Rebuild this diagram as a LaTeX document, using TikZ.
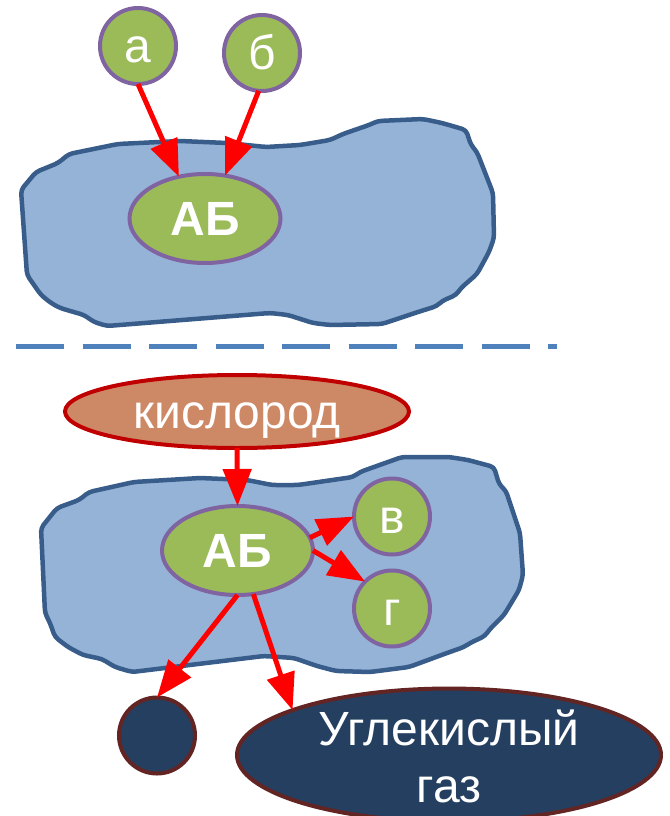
\documentclass[tikz,border=0pt]{standalone}
\usepackage{fontspec}
\setmainfont{Liberation Sans}
\usetikzlibrary{arrows.meta,shapes.geometric}
\definecolor{blobfill}{HTML}{95B3D7}
\definecolor{blobline}{HTML}{385D8A}
\definecolor{grn}{HTML}{9BBB59}
\definecolor{purp}{HTML}{8064A2}
\definecolor{kisfill}{HTML}{CD8866}
\definecolor{kisline}{HTML}{C00000}
\definecolor{darkfill}{HTML}{243F60}
\definecolor{darkline}{HTML}{632523}
\definecolor{dashc}{HTML}{4F81BD}
\tikzset{
  blob/.style={fill=blobfill,draw=blobline,line width=4.5pt,rounded corners=4pt},
  base/.style={inner sep=0pt,outer sep=0pt,line width=4pt,text=white,
    font=\fontsize{48pt}{57pt}\selectfont,text height=34pt,text depth=0pt},
  gcirc/.style={base,circle,minimum size=76pt,fill=grn,draw=purp},
  gell/.style={base,ellipse,minimum width=151pt,minimum height=89pt,fill=grn,draw=purp},
  kis/.style={base,ellipse,minimum width=344pt,minimum height=73pt,fill=kisfill,draw=kisline},
  dcirc/.style={base,circle,minimum size=76pt,fill=darkfill,draw=darkline},
  gasell/.style={base,ellipse,minimum width=424pt,minimum height=114pt,fill=darkfill,draw=darkline,
    align=center,text height=94pt,text depth=0pt},
  arr/.style={draw=red,line width=5pt,-{Triangle[length=37pt,width=28pt]}},
  sep/.style={draw=dashc,line width=5pt,dash pattern=on 48pt off 18.5pt}
}
\begin{document}
\begin{tikzpicture}[x=1pt,y=-1pt]
\useasboundingbox (0,0) rectangle (669,816);
% upper cell
\draw[blob] (21,190) -- (36,172) -- (58,163) -- (69,154) -- (118,144) -- (180,141) -- (227,143)
  -- (266,147) -- (300,145) -- (330,140) -- (343,134) -- (369,125) -- (378,121) -- (423,119)
  -- (442,123) -- (466,130) -- (471,145) -- (477,152) -- (493,193) -- (494,238) -- (489,252)
  -- (477,274) -- (461,288) -- (456,295) -- (442,301) -- (437,306) -- (418,312) -- (403,317)
  -- (382,324) -- (330,325) -- (313,323) -- (288,315) -- (270,313) -- (107,326) -- (94,322)
  -- (84,315) -- (60,308) -- (51,303) -- (41,295) -- (34,285) -- (27,275) -- cycle;
% lower cell
\draw[blob] (41,528) -- (57,508) -- (79,500) -- (89,492) -- (134,482) -- (200,478) -- (247,480)
  -- (272,485) -- (298,485) -- (353,477) -- (360,472) -- (402,457) -- (449,457) -- (468,460)
  -- (494,467) -- (499,484) -- (506,491) -- (520,533) -- (523,575) -- (519,590) -- (504,615)
  -- (489,630) -- (485,636) -- (470,643) -- (464,647) -- (447,653) -- (409,667) -- (370,672)
  -- (336,671) -- (317,666) -- (294,658) -- (264,656) -- (132,672) -- (115,667) -- (102,659)
  -- (83,655) -- (68,647) -- (55,637) -- (50,623) -- (45,613) -- cycle;
% separator
\draw[sep] (16,346) -- (557,346);
% nodes
\node[gcirc] (a) at (138,46) {а};
\node[gcirc] (b) at (262,53) {б};
\node[gell] (ab1) at (205,218.5) {\bfseries АБ};
\node[kis] (kis) at (237,411.5) {кислород};
\node[gell] (ab2) at (237.5,550.5) {\bfseries АБ};
\node[gcirc] (v) at (392,516.5) {в};
\node[gcirc] (g) at (392,608.5) {г};
\node[dcirc] (dot) at (157,735.5) {};
\node[gasell] (gas) at (449,755) {Углекислый\\газ};
% arrows
\draw[arr] (a.south) -- (ab1.122);
\draw[arr] (b.-95) -- (ab1.65);
\draw[arr] (kis.south) -- (ab2.north);
\draw[arr] (ab2.10) -- (v.west);
\draw[arr] (ab2.east) -- (g.135);
\draw[arr] (ab2.south) -- (dot.north);
\draw[arr] (ab2.-70) -- (gas.164);
\end{tikzpicture}
\end{document}
